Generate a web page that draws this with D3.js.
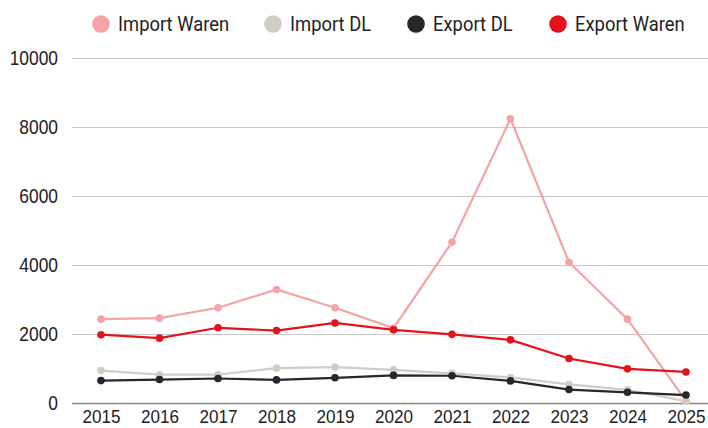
<!DOCTYPE html>
<html><head><meta charset="utf-8">
<script src="https://cdn.jsdelivr.net/npm/d3@7"></script>
<style>body{margin:0;background:#fff;}svg{display:block;font-family:"Roboto","Liberation Sans",sans-serif;}</style>
</head><body><svg id="c" width="708" height="428"></svg>
<script>
const years = [2015,2016,2017,2018,2019,2020,2021,2022,2023,2024,2025];
const importWaren = [2430,2460,2760,3290,2760,2170,4660,8240,4080,2430,60];
const importDL = [940,820,820,1010,1040,960,860,740,540,380,50];
const exportDL = [650,680,710,670,730,800,790,640,390,310,230];
const exportWaren = [1980,1880,2180,2100,2320,2120,1990,1830,1290,990,900];
const yTicks = [0,2000,4000,6000,8000,10000];
const seriesNames = ["Import Waren","Import DL","Export DL","Export Waren"];
const seriesColors = ["#f5a3a3","#d1ccc5","#26262b","#e3131b"];
const seriesData = [importWaren, importDL, exportDL, exportWaren];

const svg = d3.select("#c");
const x = d3.scalePoint().domain(years).range([101,686]);
const y = d3.scaleLinear().domain([0,10000]).range([403,58]);
const SX = 0.87;

const yAxis = svg.append("g").attr("transform","translate(72,0)")
  .call(d3.axisLeft(y).tickValues(yTicks).tickSize(-636).tickPadding(14).tickFormat(d3.format("d")));
yAxis.select(".domain").remove();
yAxis.selectAll(".tick line").attr("stroke","#c8c8c8").attr("stroke-width",1);
yAxis.selectAll(".tick").filter(d=>d===0).select("line").attr("stroke","#888").attr("stroke-width",1.3);
yAxis.selectAll("text").attr("font-size",20).attr("fill","#222")
  .attr("x",0).attr("transform",`translate(-14,0) scale(${SX},1)`);

const xAxis = svg.append("g").attr("transform","translate(0,403)")
  .call(d3.axisBottom(x).tickSize(0).tickPadding(7).tickFormat(d3.format("d")));
xAxis.select(".domain").remove();
xAxis.selectAll("text").attr("font-size",19).attr("fill","#222")
  .attr("transform",`scale(0.9,1)`);

const line = d3.line().x((d,i)=>x(years[i])).y(d=>y(d));
seriesData.forEach((arr,k)=>{
  const g = svg.append("g");
  g.append("path").datum(arr).attr("d",line).attr("fill","none")
    .attr("stroke",seriesColors[k]).attr("stroke-width",2.2);
  g.selectAll("circle").data(arr).join("circle")
    .attr("cx",(d,i)=>x(years[i])).attr("cy",d=>y(d)).attr("r",3.8).attr("fill",seriesColors[k]);
});

const legX = [101,273,416,558];
const leg = svg.append("g");
seriesNames.forEach((n,k)=>{
  leg.append("circle").attr("cx",legX[k]).attr("cy",24).attr("r",8.8).attr("fill",seriesColors[k]);
  leg.append("text").attr("transform",`translate(${legX[k]+17},31) scale(0.92,1)`)
    .attr("font-size",20).attr("fill","#222").text(n);
});
</script></body></html>
